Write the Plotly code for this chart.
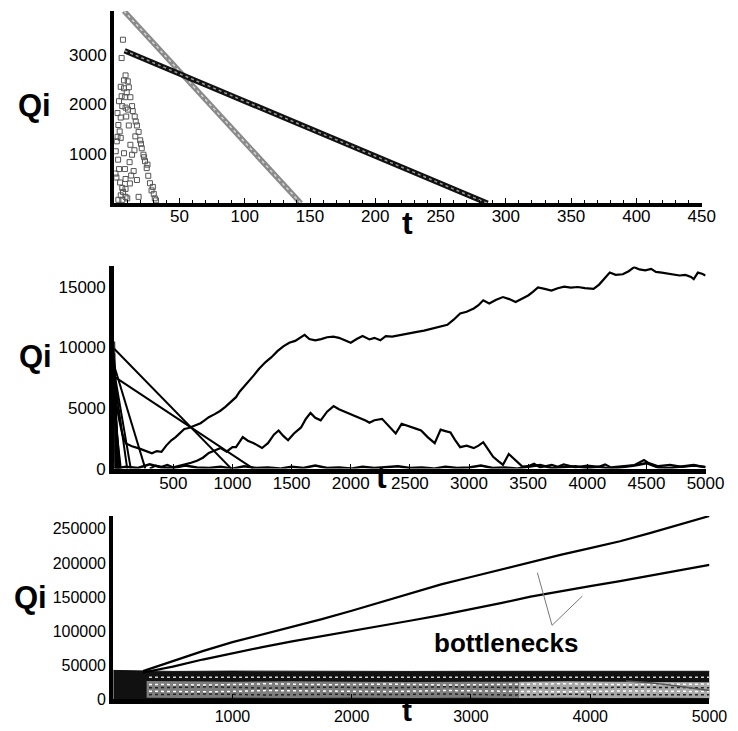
import plotly.graph_objects as go

W, H = 738, 731

# ---------------- Panel 1 data (t up to 450) ----------------
p1_dark_t = [8, 50, 100, 150, 200, 250, 286]
p1_dark_q = [3078, 2615, 2060, 1505, 955, 400, 0]
p1_gray_t = [7.5, 50, 100, 143]
p1_gray_q = [3880, 2665, 1235, 0]
p1_sc_t = [6.7, 5.7, 8.7, 7.5, 5.0, 7.5, 11.2, 5.7, 8.2, 12.4, 3.7, 6.2, 8.7, 13.7, 14.2, 2.5, 5.0,
           9.2, 15.7, 3.2, 11.2, 17.4, 18.7, 2.5, 5.0, 12.4, 19.9, 21.1, 1.2, 7.5, 13.7, 22.4, 23.6,
           3.7, 8.2, 14.9, 24.9, 26.1, 1.7, 8.7, 17.4, 27.4, 6.2, 8.7, 28.6, 18.7, 5.0, 8.7, 31.1,
           32.0, 3.2, 6.2, 10.0, 9.6, 10.4, 16.5, 16.2, 20.5, 22.9, 25.5, 29.6, 30.3, 4.2, 2.0, 3.0,
           1.0, 4.5, 6.8, 11.8, 13.0, 10.6, 15.5, 12.0]
p1_sc_q = [3300, 2930, 2580, 2480, 2350, 2320, 2340, 2160, 2140, 2140, 2060, 1960, 1930, 1960,
           1860, 1820, 1730, 1750, 1750, 1580, 1570, 1570, 1440, 1340, 1320, 1180, 1270, 1110, 1050,
           1010, 980, 980, 850, 690, 690, 650, 710, 555, 520, 490, 470, 405, 310, 290, 260, 130,
           160, 130, 100, 60, 70, 70, 100, 2240, 2460, 1650, 1350, 1200, 930, 780, 330, 190, 1450,
           1250, 880, 600, 420, 230, 830, 560, 1890, 1070, 400]

# ---------------- Panel 2 data (t up to 5000) ----------------
p2_a_t = [0, 20, 44, 70, 99, 150, 209, 260, 319, 360, 400, 440, 483, 520, 560, 593, 630, 662, 700,
          730, 758, 800, 850, 895, 940, 977, 1030, 1060, 1087, 1140, 1180, 1225, 1280, 1330, 1380,
          1430, 1480, 1530, 1580, 1610, 1650, 1700, 1750, 1800, 1853, 1900, 1950, 2000, 2050, 2100,
          2158, 2200, 2250, 2296, 2350, 2430, 2500, 2560, 2620, 2710, 2760, 2817, 2870, 2925, 2980,
          3040, 3080, 3120, 3171, 3230, 3287, 3340, 3394, 3450, 3500, 3540, 3583, 3640, 3697, 3750,
          3805, 3860, 3920, 3980, 4053, 4100, 4150, 4190, 4240, 4300, 4350, 4397, 4440, 4490, 4540,
          4580, 4630, 4680, 4730, 4780, 4830, 4877, 4900, 4935, 4970, 5000]
p2_a_q = [8600, 5200, 3950, 2800, 2070, 1850, 1670, 1500, 1260, 1450, 1380, 1900, 2340, 2600, 3000,
          3280, 3350, 3470, 3600, 3750, 3950, 4250, 4500, 4760, 5100, 5430, 5900, 6350, 6640, 7300,
          7700, 8250, 8800, 9200, 9700, 10100, 10400, 10550, 10900, 11050, 10700, 10600, 10700,
          10850, 10900, 10800, 10600, 10400, 10700, 10950, 10670, 10800, 10600, 10940, 10900,
          11070, 11200, 11300, 11400, 11610, 11700, 11880, 12300, 12820, 12950, 13230, 13500,
          13900, 13630, 13950, 14170, 14000, 13760, 14050, 14300, 14600, 14970, 14850, 14700,
          14900, 15030, 14950, 15000, 14900, 14840, 15200, 15800, 16190, 16000, 16050, 16300,
          16640, 16450, 16370, 16500, 16250, 16190, 16100, 16000, 15950, 16000, 15830, 15650,
          16190, 16100, 15950]
p2_b_t = [300, 350, 400, 450, 500, 550, 600, 650, 700, 750, 800, 850, 900, 950, 1000, 1030, 1087,
          1130, 1180, 1250, 1300, 1350, 1390, 1430, 1470, 1520, 1580, 1620, 1660, 1700, 1746, 1800,
          1855, 1900, 1950, 2000, 2050, 2100, 2130, 2158, 2200, 2265, 2320, 2380, 2430, 2500, 2550,
          2595, 2650, 2710, 2760, 2800, 2843, 2880, 2925, 2980, 3040, 3080, 3120, 3160, 3204, 3250,
          3287, 3336, 3390, 3451, 3500, 3550, 3600, 3700, 3750, 3800, 3900, 4000, 4100, 4150, 4200,
          4300, 4400, 4480, 4520, 4600, 4700, 4800, 4900, 5000]
p2_b_q = [0, 250, 150, 300, 100, 200, 350, 480, 650, 900, 1300, 1500, 1700, 1400, 1770, 1770, 2600,
          2300, 2100, 1700, 2100, 2800, 3150, 2700, 2340, 2900, 3400, 4100, 4600, 4200, 3990, 4700,
          5160, 4900, 4700, 4500, 4300, 4100, 3950, 3790, 4000, 4110, 3500, 2900, 3700, 3500, 3300,
          3150, 2600, 2100, 3220, 3100, 2980, 2400, 1770, 1900, 1690, 1900, 2180, 1600, 970, 600,
          320, 1210, 700, 160, 200, 400, 100, 300, 150, 350, 100, 250, 150, 350, 100, 200, 300, 700,
          450, 200, 300, 150, 250, 150]
p2_c_t = [0, 100, 200, 300, 400, 500, 600, 700, 800, 900, 1000, 1100, 1200, 1300, 1400, 1500, 1600,
          1700, 1800, 1900, 2000, 2100, 2200, 2300, 2400, 2500, 2600, 2700, 2800, 2900, 3000, 3100,
          3200, 3300, 3400, 3500, 3600, 3700, 3800, 3900, 4000, 4100, 4200, 4300, 4400, 4500, 4600,
          4700, 4800, 4900, 5000]
p2_c_q = [0, 150, 50, 350, 100, 50, 250, 100, 50, 150, 0, 200, 50, 100, 0, 150, 50, 250, 50, 100,
          0, 150, 50, 100, 200, 50, 100, 0, 150, 50, 100, 250, 50, 100, 0, 150, 300, 50, 100, 200,
          50, 150, 0, 100, 250, 450, 100, 50, 150, 300, 100]
p2_l_start = [9900, 7600, 8500, 8000, 7600, 9500, 9000, 8800, 7000, 6000, 4800, 10500, 8200]
p2_l_end = [990, 1175, 263, 140, 110, 12, 22, 32, 40, 48, 56, 8, 28]

# ---------------- Panel 3 data (t up to 5000) ----------------
p3_t = [250, 500, 750, 1000, 1250, 1500, 1750, 2000, 2250, 2500, 2750, 3000, 3250, 3500, 3750,
        4000, 4250, 4500, 4750, 5000]
p3_upper = [41500, 56200, 70700, 84000, 95100, 105800, 117700, 130000, 142900, 155900, 168500,
            179400, 190300, 201500, 211800, 221700, 231800, 243600, 256200, 268800]
p3_lower = [39500, 48000, 58400, 67700, 76500, 85000, 92500, 99500, 107700, 115600, 123500, 131700,
            141000, 150700, 158800, 166000, 173300, 181000, 189000, 197200]
p3_band_t = [0, 250, 500, 1000, 1500, 2000, 2500, 3000, 3500, 4000, 4500, 5000]
p3_band_top = [42500, 42000, 41000, 41500, 41000, 41300, 41000, 41200, 41000, 41300, 41000, 41200]
p3_spk_t = [280, 600, 1000, 1500, 2000, 2500, 3000, 3400]
p3_spk_top = [27000, 26500, 26000, 26500, 26000, 25500, 26000, 26000]
p3_spk_bot = [2500, 2000, 2500, 2000, 2500, 2000, 2500, 2000]
p3_spk2_t = [3400, 3800, 4200, 4600, 5000]
p3_spk2_top = [26000, 26500, 26000, 25500, 25000]
p3_spk2_bot = [2000, 2500, 2000, 2500, 2000]
p3_dot_t = [300, 5000]
p3_dot_q = [32500, 32500]
# texture lines inside the speckled part of the band
p3_tex_t = [300, 800, 1300, 1800, 2300, 2800, 3300, 3800, 4300, 4800, 5000]
p3_tex_levels = [
    [22000, 21000, 23000, 21500, 22500, 21000, 22000, 23000, 21500, 22000, 22500],
    [17000, 18500, 16500, 18000, 17000, 18500, 17500, 16500, 18000, 17500, 17000],
    [12000, 11000, 13000, 12000, 11500, 13000, 12000, 11000, 12500, 12000, 11500],
    [7000, 8000, 6500, 7500, 7000, 8000, 6500, 7500, 7000, 6500, 7000],
]
p3_tex_colors = ["#ffffff", "#222222", "#ffffff", "#222222"]
p3_fall_t = [4300, 4500, 4700, 4850, 5000]
p3_fall_q = [27000, 24500, 20500, 17000, 13000]
p3_note_t = [3557, 3680, 3934]
p3_note_q = [185700, 108600, 151400]

fig = go.Figure()

# ---- Panel 1 ----
fig.add_trace(go.Scatter(x=p1_gray_t, y=p1_gray_q, mode="lines", xaxis="x", yaxis="y",
                         line=dict(color="#8a8a8a", width=5.5)))
fig.add_trace(go.Scatter(x=p1_gray_t, y=p1_gray_q, mode="lines", xaxis="x", yaxis="y",
                         line=dict(color="#d4d4d4", width=1.5, dash="dot")))
fig.add_trace(go.Scatter(x=p1_dark_t, y=p1_dark_q, mode="lines", xaxis="x", yaxis="y",
                         line=dict(color="#111111", width=5.5)))
fig.add_trace(go.Scatter(x=p1_dark_t, y=p1_dark_q, mode="lines", xaxis="x", yaxis="y",
                         line=dict(color="#9a9a9a", width=1.5, dash="dot")))
fig.add_trace(go.Scatter(x=p1_sc_t, y=p1_sc_q, mode="markers", xaxis="x", yaxis="y",
                         marker=dict(symbol="square-open", size=5, color="#555555",
                                     line=dict(width=1))))

# ---- Panel 2 ----
for q0, te in zip(p2_l_start, p2_l_end):
    fig.add_trace(go.Scatter(x=[0, te], y=[q0, 0], mode="lines", xaxis="x2", yaxis="y2",
                             line=dict(color="black", width=2)))
fig.add_trace(go.Scatter(x=p2_c_t, y=p2_c_q, mode="lines", xaxis="x2", yaxis="y2",
                         line=dict(color="black", width=2.5)))
fig.add_trace(go.Scatter(x=p2_b_t, y=p2_b_q, mode="lines", xaxis="x2", yaxis="y2",
                         line=dict(color="black", width=2.2)))
fig.add_trace(go.Scatter(x=p2_a_t, y=p2_a_q, mode="lines", xaxis="x2", yaxis="y2",
                         line=dict(color="black", width=2.2)))

# ---- Panel 3 ----
fig.add_trace(go.Scatter(x=p3_band_t, y=p3_band_top, mode="lines", fill="tozeroy",
                         xaxis="x3", yaxis="y3", fillcolor="#111111",
                         line=dict(color="#111111", width=1)))
fig.add_trace(go.Scatter(x=p3_spk_t + p3_spk_t[::-1], y=p3_spk_top + p3_spk_bot[::-1],
                         fill="toself", mode="none", xaxis="x3", yaxis="y3",
                         fillcolor="#7e7e7e"))
fig.add_trace(go.Scatter(x=p3_spk2_t + p3_spk2_t[::-1], y=p3_spk2_top + p3_spk2_bot[::-1],
                         fill="toself", mode="none", xaxis="x3", yaxis="y3",
                         fillcolor="#a8a8a8"))
for lev, col in zip(p3_tex_levels, p3_tex_colors):
    fig.add_trace(go.Scatter(x=p3_tex_t, y=lev, mode="lines", xaxis="x3", yaxis="y3",
                             line=dict(color=col, width=1.5, dash="dot")))
fig.add_trace(go.Scatter(x=p3_dot_t, y=p3_dot_q, mode="lines", xaxis="x3", yaxis="y3",
                         line=dict(color="#cfcfcf", width=1.5, dash="dot")))
fig.add_trace(go.Scatter(x=p3_fall_t, y=p3_fall_q, mode="lines", xaxis="x3", yaxis="y3",
                         line=dict(color="#555555", width=1.5)))
fig.add_trace(go.Scatter(x=p3_t, y=p3_lower, mode="lines", xaxis="x3", yaxis="y3",
                         line=dict(color="black", width=2.2)))
fig.add_trace(go.Scatter(x=p3_t, y=p3_upper, mode="lines", xaxis="x3", yaxis="y3",
                         line=dict(color="black", width=2.2)))
fig.add_trace(go.Scatter(x=p3_note_t, y=p3_note_q, mode="lines", xaxis="x3", yaxis="y3",
                         line=dict(color="#777777", width=1)))

FONT = "Liberation Sans, Arial, sans-serif"


def xax(dom, rng, vals, anchor, lw, fs, standoff, minor_dtick=None):
    d = dict(domain=dom, range=rng, anchor=anchor, showgrid=False, zeroline=False,
             showline=True, linecolor="black", linewidth=lw, tickmode="array",
             tickvals=vals, ticktext=[str(v) for v in vals], ticks="inside", ticklen=5,
             tickwidth=1, tickcolor="black", ticklabelstandoff=standoff,
             tickfont=dict(family=FONT, size=fs, color="black"))
    if minor_dtick:
        d["minor"] = dict(tickmode="linear", tick0=0, dtick=minor_dtick, ticks="inside",
                          ticklen=3, tickwidth=1, tickcolor="black")
    return d


def yax(dom, rng, vals, anchor, lw, fs):
    return dict(domain=dom, range=rng, anchor=anchor, showgrid=False, zeroline=False,
                showline=True, linecolor="black", linewidth=lw, tickmode="array",
                tickvals=vals, ticktext=[str(v) for v in vals], ticks="",
                tickfont=dict(family=FONT, size=fs, color="black"))


fig.update_layout(
    width=W, height=H, margin=dict(l=0, r=0, t=0, b=0),
    paper_bgcolor="white", plot_bgcolor="white", showlegend=False,
    xaxis=xax([109 / W, 712 / W], [0, 450], [50, 100, 150, 200, 250, 300, 350, 400, 450],
              "y", 4, 17, -6, 10),
    yaxis=yax([1 - 198 / H, 1 - 3 / H], [0, 3880], [1000, 2000, 3000], "x", 4, 17),
    xaxis2=xax([109 / W, 716 / W], [0, 5000],
               [500, 1000, 1500, 2000, 2500, 3000, 3500, 4000, 4500, 5000], "y2", 5, 17, -5),
    yaxis2=yax([1 - 467 / H, 1 - 262 / H], [0, 16700], [0, 5000, 10000, 15000], "x2", 5, 17),
    xaxis3=xax([108 / W, 720 / W], [0, 5000], [1000, 2000, 3000, 4000, 5000], "y3", 5, 16, -2),
    yaxis3=yax([1 - 701 / H, 1 - 515 / H], [0, 268800],
               [0, 50000, 100000, 150000, 200000, 250000], "x3", 4, 16),
)

big = dict(family=FONT, size=31, color="black")
anns = []
for (x, y) in [(27, 99), (28, 353), (23, 598)]:
    anns.append(dict(text="<b>Qi</b>", x=x / W, y=1 - y / H, xref="paper", yref="paper",
                     showarrow=False, font=big, xanchor="center", yanchor="middle"))
for (x, y, s) in [(410, 218, 32), (383, 476, 32), (410, 712, 30)]:
    anns.append(dict(text="<b>t</b>", x=x / W, y=1 - y / H, xref="paper", yref="paper",
                     showarrow=False, font=dict(family=FONT, size=s, color="black"),
                     xanchor="center", yanchor="middle"))
anns.append(dict(text="<b>bottlenecks</b>", x=3295, y=82900, xref="x3", yref="y3",
                 showarrow=False, font=dict(family=FONT, size=26, color="black"),
                 xanchor="center", yanchor="middle"))
fig.update_layout(annotations=anns)

fig.write_html("out.html")
